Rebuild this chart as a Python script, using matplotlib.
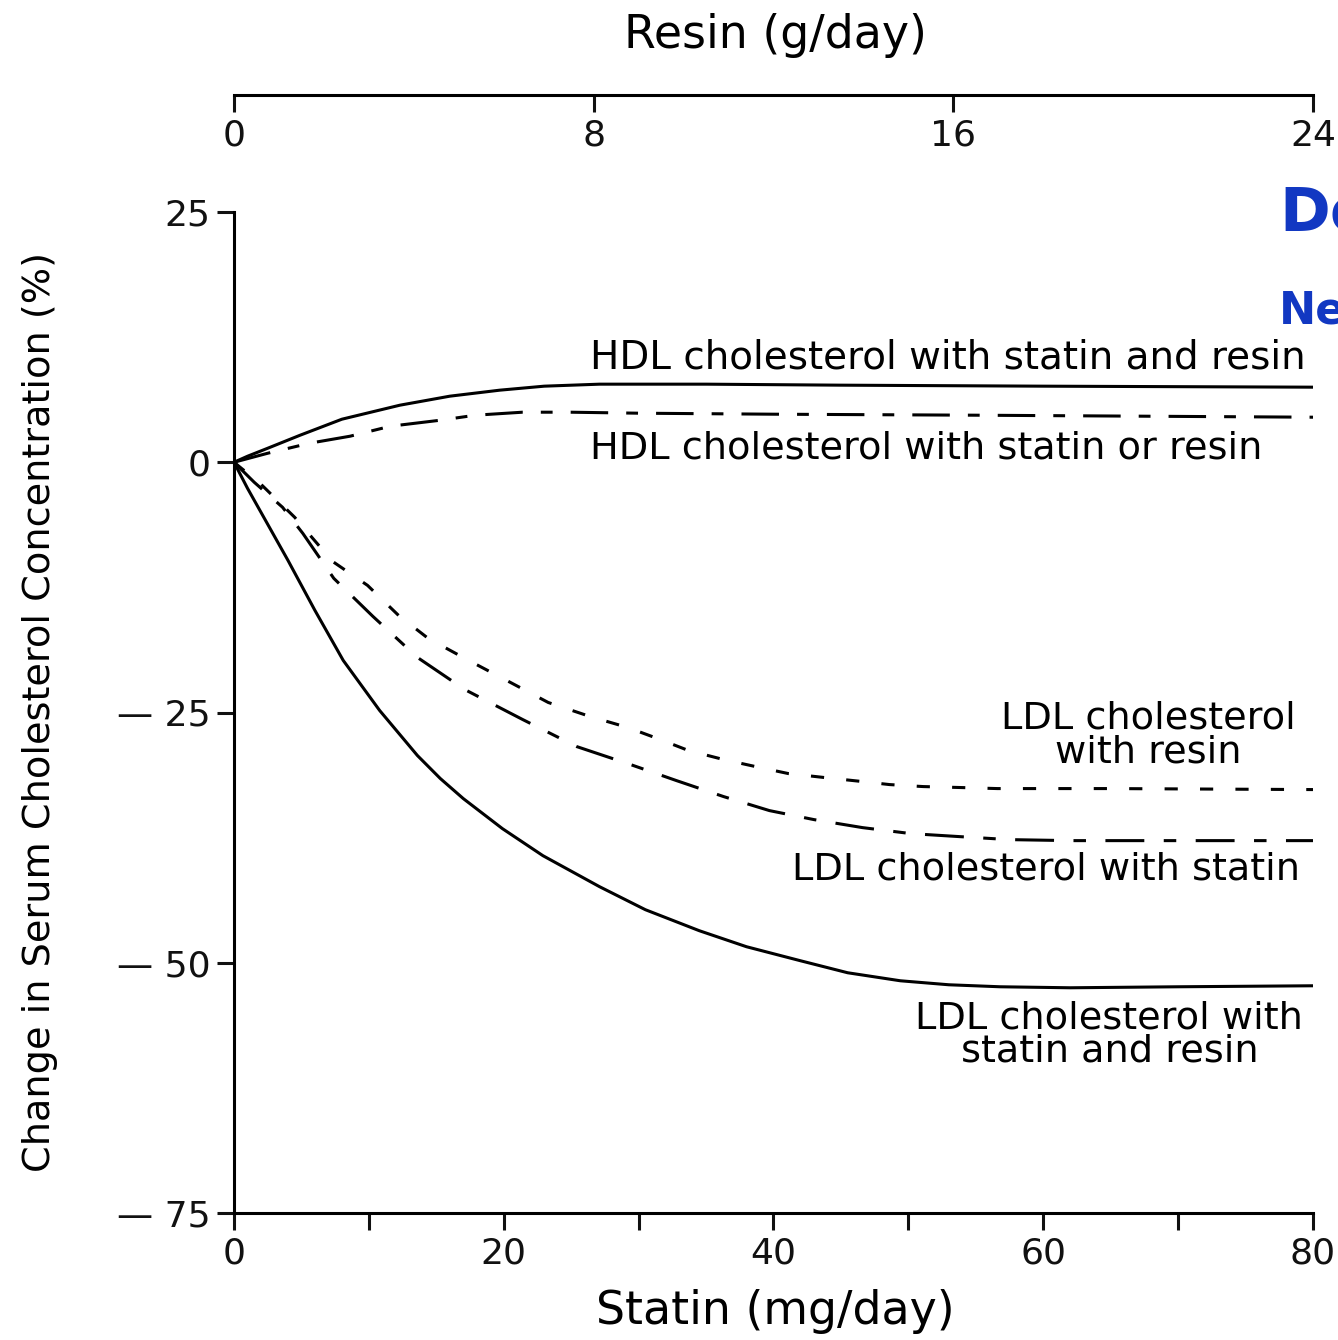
import matplotlib
matplotlib.use("Agg")
import matplotlib.pyplot as plt

plt.rcParams['font.family'] = ['DejaVu Sans']
plt.rcParams['lines.scale_dashes'] = False

# statin dose (mg/day) and % change
hdl_both_x = [0, 1, 2.5, 4.9, 8, 12.3, 16, 19.7, 23, 27.1, 35, 45, 60, 80]
hdl_both_y = [0, 0.6, 1.4, 2.7, 4.3, 5.7, 6.6, 7.2, 7.6, 7.8, 7.8, 7.7, 7.6, 7.5]

hdl_one_x = [0, 2.5, 5.6, 8.6, 11.6, 15.3, 17.9, 21.4, 24.9, 30, 40, 55, 80]
hdl_one_y = [0, 0.9, 1.9, 2.6, 3.6, 4.2, 4.7, 5.0, 5.0, 4.9, 4.8, 4.7, 4.5]

ldl_resin_x = [0, 2, 4.5, 7.3, 9.9, 12.2, 14.4, 17.4, 20.5, 23.3, 26.4, 29.2, 31.6, 33.7,
               36.3, 39, 41.1, 43.8, 46.6, 48.6, 51.1, 54, 56.6, 65, 80]
ldl_resin_y = [0, -2.2, -5.5, -9.9, -12.3, -15.3, -17.6, -19.8, -22.0, -24.0, -25.4, -26.5,
               -27.7, -28.8, -29.7, -30.5, -31.1, -31.5, -31.9, -32.2, -32.4, -32.5, -32.6,
               -32.6, -32.7]

ldl_statin_x = [0, 1.5, 3.6, 5.1, 7.4, 10.3, 13.6, 17.1, 21.4, 25.4, 29.4, 32.8, 36.3,
                39.7, 43, 46.6, 50.2, 53.8, 57.5, 62, 80]
ldl_statin_y = [0, -2.0, -4.5, -7.1, -11.6, -15.4, -19.5, -22.7, -25.7, -28.4, -30.2, -31.8,
                -33.4, -34.8, -35.7, -36.5, -37.1, -37.4, -37.7, -37.8, -37.8]

ldl_both_x = [0, 1, 2.5, 4, 6, 8.1, 10.8, 13.6, 15.3, 17, 19.9, 22.9, 27.1, 30.5, 34.5,
              38, 42, 45.5, 49.4, 53, 56.8, 62, 70, 80]
ldl_both_y = [0, -2.6, -6.2, -9.8, -14.8, -19.8, -24.8, -29.3, -31.6, -33.6, -36.6, -39.3,
              -42.4, -44.7, -46.8, -48.4, -49.8, -51.0, -51.8, -52.2, -52.4, -52.5, -52.4,
              -52.3]

statin_ticks = [0, 20, 40, 60, 80]
statin_minor = [10, 30, 50, 70]
resin_ticks = [0, 8, 16, 24]
y_ticks = [25, 0, -25, -50, -75]
y_labels = ['25', '0', '\u2014 25', '\u2014 50', '\u2014 75']

W, H = 1338, 1340
fig = plt.figure(figsize=(W / 100, H / 100), dpi=100)
ax = fig.add_axes([234 / W, 127 / H, 1079 / W, 1001 / H])

lw = 2.2
ax.plot(hdl_both_x, hdl_both_y, color='black', lw=lw, solid_capstyle='butt')
ax.plot(hdl_one_x, hdl_one_y, color='black', lw=lw,
        linestyle=(0, (27, 13, 8.5, 13)), dash_capstyle='butt')
ax.plot(ldl_resin_x, ldl_resin_y, color='black', lw=lw,
        linestyle=(0, (9.5, 16)), dash_capstyle='butt')
ax.plot(ldl_statin_x, ldl_statin_y, color='black', lw=lw,
        linestyle=(0, (28, 14, 9, 14)), dash_capstyle='butt')
ax.plot(ldl_both_x, ldl_both_y, color='black', lw=lw, solid_capstyle='butt')

ax.set_xlim(0, 80)
ax.set_ylim(-75, 25)
for s in ['top', 'right']:
    ax.spines[s].set_visible(False)
for s in ['left', 'bottom']:
    ax.spines[s].set_linewidth(2.2)

fs_tick = 26
fs_lab = 27.5
ax.set_xticks(statin_ticks)
ax.set_xticklabels([str(t) for t in statin_ticks])
ax.set_xticks(statin_minor, minor=True)
ax.set_yticks(y_ticks)
ax.set_yticklabels(y_labels)
ax.tick_params(axis='both', which='both', direction='out', length=12, width=2.2,
               labelsize=fs_tick, pad=5, colors='#111111')
for t in ax.get_xticklabels() + ax.get_yticklabels():
    t.set_clip_on(False)

# top resin axis
ax2 = fig.add_axes([234 / W, (H - 95) / H, 1079 / W, 0.0001])
ax2.set_xlim(0, 24)
ax2.set_yticks([])
for s in ['top', 'right', 'left']:
    ax2.spines[s].set_visible(False)
ax2.spines['bottom'].set_linewidth(2.2)
ax2.set_xticks(resin_ticks)
ax2.set_xticklabels([str(t) for t in resin_ticks])
ax2.tick_params(axis='x', direction='out', length=12, width=2.2, labelsize=fs_tick,
                pad=5, colors='#111111')

# axis titles
fig.text(775 / W, 1 - 35 / H, 'Resin (g/day)', ha='center', va='center', fontsize=33)
fig.text(775 / W, 1 - 1312 / H, 'Statin (mg/day)', ha='center', va='center', fontsize=33)
fig.text(40 / W, 1 - 712 / H, 'Change in Serum Cholesterol Concentration (%)',
         ha='center', va='center', rotation=90, fontsize=fs_lab)

# curve labels
ax.text(26.4, 10.5, 'HDL cholesterol with statin and resin', ha='left', va='center',
        fontsize=28)
ax.text(26.4, 1.4, 'HDL cholesterol with statin or resin', ha='left', va='center',
        fontsize=fs_lab)
ax.text(67.8, -27.3, 'LDL cholesterol\nwith resin', ha='center', va='center',
        multialignment='center', linespacing=0.9, fontsize=fs_lab)
ax.text(41.4, -40.7, 'LDL cholesterol with statin', ha='left', va='center',
        fontsize=fs_lab)
ax.text(64.9, -57.25, 'LDL cholesterol with\nstatin and resin', ha='center', va='center',
        multialignment='center', linespacing=0.9, fontsize=fs_lab)

# cut-off blue headings at right edge
fig.text(1279 / W, 1 - 215 / H, 'Do', ha='left', va='center', fontsize=44,
         fontweight='bold', color='#1238c2')
fig.text(1279 / W, 1 - 311 / H, 'Ne', ha='left', va='center', fontsize=32,
         fontweight='bold', color='#1238c2')

fig.savefig('out.png', dpi=100)
